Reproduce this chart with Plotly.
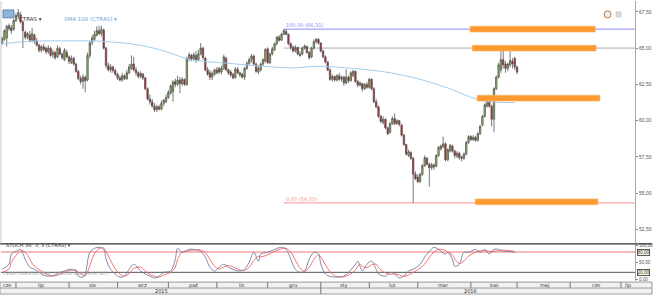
import pandas as pd
import plotly.graph_objects as go

ticker = "CTRAS"

# ---------------- data ----------------
trade_days = pd.bdate_range("2015-06-23", "2016-04-29")  # 224 sessions

opens = [
    65.34, 65.6, 65.7, 66.55, 66.4, 66.3,
    66.9, 67.2, 67.3, 66.8, 66.1, 65.75, 65.9, 65.55, 65.9, 65.5, 65.2, 64.85, 65.1, 65.0, 64.75, 65.0, 64.55, 64.7, 64.4, 64.95, 64.6, 64.2, 64.7,
    64.4, 64.0, 64.3, 63.9, 63.4, 62.9, 62.7, 63.0, 62.8, 64.5, 65.4, 65.6, 65.9, 66.2, 66.0, 66.25, 65.0, 63.8, 63.5, 63.7, 63.45,
    63.2, 62.95, 62.8, 63.1, 62.9, 63.3, 63.6, 63.9, 63.5, 63.3, 63.05, 63.2, 62.95, 62.2, 61.5, 61.3, 61.0, 60.75, 60.95, 60.8, 61.2, 61.3,
    61.6, 61.9, 62.0, 62.7, 62.5, 62.8, 62.55, 62.85, 62.5, 64.3, 64.5, 64.25, 64.5, 64.2, 64.6, 65.0, 64.3, 63.5, 63.3, 63.0, 63.2, 63.5,
    63.6, 63.35, 63.6, 64.3, 63.5, 63.35, 63.2, 62.95, 63.55, 63.3, 63.2, 63.0, 63.6, 63.95, 64.2, 64.45, 63.9, 63.35, 63.5, 63.9, 64.1,
    64.95, 64.0, 64.6, 64.9, 65.3, 65.75, 65.55, 65.95, 66.15, 65.95, 65.3, 65.05, 64.8, 65.05, 64.6, 64.6, 65.0, 65.1, 64.7, 64.4, 65.0, 65.45, 65.6,
    65.35, 64.8, 64.4, 64.05, 63.5, 62.85, 63.05, 62.8, 63.1, 62.85, 63.0, 62.6, 63.0, 62.75, 63.1, 63.4, 62.7, 62.45, 62.55, 62.2, 62.5,
    62.3, 62.85, 62.2, 61.3, 60.95, 60.3, 59.85, 60.1, 59.5, 59.2, 59.8, 60.15, 59.8, 60.0, 59.7, 59.0, 58.35, 57.6, 57.8, 57.4, 56.3,
    56.1, 55.8, 56.3, 56.9, 57.4, 57.0, 56.75, 56.95, 56.85, 57.6, 58.05, 58.2, 58.4, 57.3, 57.9, 58.25, 57.9, 57.55, 57.75, 57.5, 57.4, 57.7, 58.5,
    58.9, 58.7, 58.85, 58.65, 59.1, 59.7, 60.3, 61.0, 61.4, 61.0, 60.1, 62.2, 63.0, 63.5, 64.2, 63.9, 63.6, 63.85, 64.1, 64.3, 63.7,
]
highs = [
    65.8, 66.3, 66.6, 66.7, 66.6, 67.0,
    67.4, 67.7, 67.5, 66.9, 66.2, 66.1, 66.2, 66.4, 66.0, 65.7, 65.3, 65.2, 65.3, 65.1, 65.2, 65.1, 64.9, 64.8, 65.2, 65.1, 64.7, 65.0, 64.9,
    64.5, 64.5, 64.4, 64.0, 63.5, 63.1, 63.2, 63.1, 64.7, 65.5, 65.9, 66.2, 66.5, 66.55, 66.55, 66.35, 65.1, 64.0, 63.9, 63.8, 63.6,
    63.3, 63.1, 63.3, 63.2, 63.5, 63.9, 64.5, 64.4, 63.7, 63.4, 63.4, 63.3, 63.0, 62.3, 61.8, 61.5, 61.2, 61.1, 61.1, 61.4, 61.5, 61.8,
    62.1, 62.5, 62.8, 62.9, 63.1, 63.0, 63.0, 62.9, 64.4, 64.7, 64.6, 64.7, 64.8, 64.9, 65.35, 65.1, 64.4, 63.7, 63.5, 63.4, 63.6, 63.7,
    63.7, 63.8, 64.55, 64.4, 63.6, 63.5, 63.3, 63.7, 63.7, 63.4, 63.3, 63.7, 64.1, 64.35, 64.6, 64.55, 64.0, 63.8, 64.0, 64.3, 65.0,
    65.05, 64.7, 65.1, 65.4, 65.85, 65.9, 66.05, 66.31, 66.3, 66.0, 65.4, 65.2, 65.2, 65.1, 64.8, 65.1, 65.25, 65.2, 64.8, 65.1, 65.6, 65.7, 65.7,
    65.4, 64.9, 64.5, 64.1, 63.6, 63.2, 63.1, 63.2, 63.3, 63.1, 63.1, 63.55, 63.1, 63.4, 63.5, 63.45, 62.8, 62.7, 62.6, 62.6, 62.65,
    62.95, 62.9, 62.3, 61.5, 61.05, 60.4, 60.3, 60.15, 59.6, 59.9, 60.3, 60.5, 60.1, 60.05, 59.8, 59.1, 58.4, 58.0, 57.9, 57.5, 56.5,
    56.3, 56.4, 57.0, 57.6, 57.5, 57.1, 57.1, 57.05, 57.7, 58.25, 58.35, 58.9, 58.5, 58.1, 58.4, 58.35, 58.0, 57.9, 57.85, 57.6, 57.8, 58.6, 59.0,
    59.0, 59.0, 58.95, 59.2, 59.7, 60.4, 61.2, 61.65, 61.6, 61.1, 62.3, 63.1, 64.0, 65.05, 64.9, 64.1, 64.0, 65.0, 64.3, 64.4, 63.8,
]
lows = [
    65.2, 65.5, 65.1, 66.2, 66.0, 66.2,
    66.8, 67.0, 66.7, 65.0, 65.6, 65.6, 65.4, 65.4, 65.3, 65.1, 64.7, 64.7, 64.8, 64.6, 64.6, 64.4, 64.3, 64.2, 64.3, 64.5, 64.2, 64.1, 64.3,
    63.9, 63.9, 63.8, 63.3, 62.8, 62.5, 62.2, 61.95, 62.7, 64.3, 65.2, 65.5, 65.8, 65.9, 65.8, 64.9, 63.6, 63.4, 63.3, 63.3, 63.1,
    62.8, 62.7, 62.7, 62.8, 62.8, 63.2, 63.5, 63.4, 63.1, 62.9, 62.9, 62.8, 62.1, 61.4, 61.1, 60.9, 60.6, 60.6, 60.7, 60.7, 61.0, 61.2,
    61.5, 61.8, 61.3, 62.3, 62.4, 61.9, 62.4, 62.4, 62.4, 64.1, 64.1, 64.1, 64.0, 64.1, 64.5, 64.2, 63.4, 63.1, 62.8, 62.8, 63.1, 63.2,
    63.2, 63.2, 63.5, 63.4, 63.15, 63.0, 62.85, 62.9, 63.2, 63.0, 62.9, 62.8, 63.5, 63.8, 64.0, 63.8, 63.3, 63.2, 63.4, 63.8, 64.0,
    63.9, 63.9, 64.5, 64.8, 65.2, 65.45, 65.5, 65.9, 65.9, 65.2, 64.9, 64.7, 64.7, 64.5, 64.4, 64.5, 64.9, 64.6, 64.2, 64.3, 64.9, 65.3, 65.25,
    64.7, 64.3, 63.95, 63.4, 62.75, 62.7, 62.7, 62.7, 62.75, 62.7, 62.4, 62.5, 62.6, 62.7, 63.0, 62.6, 62.3, 62.35, 62.0, 62.1, 62.2,
    62.2, 62.1, 61.2, 60.85, 60.2, 59.85, 59.75, 59.4, 59.0, 59.1, 59.7, 59.7, 59.7, 59.6, 58.9, 58.25, 57.6, 57.5, 57.3, 54.33, 55.9,
    55.7, 55.7, 56.2, 56.8, 56.9, 55.45, 56.6, 56.6, 56.8, 57.5, 57.95, 58.1, 57.2, 57.2, 57.8, 57.8, 57.4, 57.4, 57.3, 57.2, 57.3, 57.6, 58.4,
    58.6, 58.6, 58.55, 58.55, 59.0, 59.6, 60.2, 60.9, 60.9, 59.6, 59.2, 62.1, 62.9, 63.3, 63.6, 63.3, 63.4, 63.7, 63.6, 63.5, 63.2,
]
closes = [
    65.68, 66.2, 66.5, 66.35, 66.2, 66.9,
    67.25, 67.45, 66.8, 66.2, 65.75, 66.0, 65.55, 66.0, 65.5, 65.2, 64.85, 65.1, 64.9, 64.75, 65.0, 64.5, 64.7, 64.35, 65.0, 64.6, 64.35, 64.85, 64.4,
    64.1, 64.3, 63.9, 63.4, 62.9, 62.7, 63.0, 62.75, 64.5, 65.35, 65.7, 65.95, 66.2, 66.0, 66.3, 65.0, 63.8, 63.5, 63.7, 63.45, 63.2,
    62.95, 62.8, 63.1, 62.9, 63.3, 63.7, 63.9, 63.5, 63.3, 63.05, 63.25, 62.95, 62.2, 61.5, 61.3, 61.0, 60.75, 60.95, 60.8, 61.2, 61.4, 61.6,
    61.95, 62.4, 62.65, 62.5, 62.8, 62.55, 62.85, 62.5, 64.3, 64.55, 64.25, 64.55, 64.2, 64.6, 65.0, 64.35, 63.5, 63.2, 63.0, 63.25, 63.5, 63.3,
    63.35, 63.6, 64.4, 63.5, 63.3, 63.15, 62.95, 63.55, 63.3, 63.15, 63.0, 63.6, 63.95, 64.2, 64.45, 63.9, 63.4, 63.6, 63.9, 64.2, 64.9,
    64.0, 64.6, 64.95, 65.3, 65.75, 65.55, 65.95, 66.2, 65.95, 65.3, 65.05, 64.8, 65.05, 64.6, 64.5, 65.0, 65.15, 64.7, 64.35, 65.0, 65.45, 65.6, 65.35,
    64.8, 64.4, 64.05, 63.5, 62.85, 63.05, 62.8, 63.1, 62.85, 63.0, 62.6, 63.0, 62.75, 63.3, 63.4, 62.7, 62.45, 62.6, 62.2, 62.5, 62.3,
    62.85, 62.2, 61.3, 60.95, 60.3, 59.95, 60.1, 59.5, 59.1, 59.8, 60.15, 59.8, 60.0, 59.75, 59.0, 58.35, 57.7, 57.85, 57.4, 56.3, 56.0,
    55.8, 56.3, 56.9, 57.45, 57.0, 56.75, 56.95, 56.8, 57.6, 58.15, 58.25, 58.4, 57.3, 58.0, 58.3, 57.9, 57.6, 57.75, 57.45, 57.4, 57.7, 58.5, 58.9,
    58.7, 58.85, 58.65, 59.1, 59.6, 60.3, 61.1, 61.5, 61.0, 60.1, 62.2, 63.0, 63.85, 64.2, 63.85, 63.6, 63.9, 64.15, 63.9, 63.7, 63.35,
]

# SMA 100 (read at selected sessions)
sma_day = [0, 13, 28, 42, 57, 68, 82, 97, 111, 126, 137, 152, 166, 176, 181, 195, 202, 210, 222]
sma_val = [65.3, 65.48, 65.5, 65.48, 65.27, 64.9, 64.2, 63.97, 63.77, 63.64, 63.75, 63.6, 63.35, 63.05, 62.85,
           62.14, 61.67, 61.33, 61.24]

# Stochastic %K / %D (read at selected sessions)
sto_day = [0, 3, 4, 6, 8, 10, 12, 14, 16, 19, 21, 23, 25, 27, 29, 32, 33, 35, 36, 38, 40, 42, 44, 45, 47, 49,
           51, 53, 55, 57, 60, 62, 64, 66, 68, 70, 73, 75, 76, 78, 81, 83, 86, 88, 90, 92, 94, 96, 98, 101, 103,
           105, 107, 109, 111, 112, 115, 118, 121, 123, 125, 127, 129, 131, 133, 135, 137, 138, 140, 142, 144,
           146, 148, 150, 153, 154, 155, 156, 158, 160, 162, 163, 166, 168, 170, 172, 174, 176, 178, 181, 183,
           185, 187, 189, 192, 193, 195, 196, 198, 200, 202, 205, 207, 209, 211, 213, 215, 217, 220, 222]
sto_k = [29, 44, 74, 82, 88, 59, 35, 29, 20, 9, 9, 12, 20, 24, 29, 24, 9, 6, 15, 79, 91, 94, 88, 59, 29, 15,
         6, 9, 29, 44, 24, 15, 9, 3, 9, 20, 24, 59, 91, 79, 88, 88, 82, 65, 35, 24, 35, 44, 35, 26, 24,
         29, 50, 79, 53, 74, 79, 88, 94, 88, 59, 29, 20, 24, 59, 79, 75, 45, 15, 8, 6,
         6, 9, 20, 44, 53, 38, 24, 44, 53, 29, 15, 9, 20, 15, 3, 9, 24, 29, 44, 65,
         82, 94, 88, 74, 79, 59, 38, 44, 79, 79, 88, 79, 88, 74, 88, 88, 82, 82, 79]
sto_d = [20, 30, 50, 70, 84, 80, 58, 38, 28, 16, 10, 10, 14, 20, 25, 27, 20, 12, 9, 40, 75, 90, 92, 82, 55, 30,
         15, 9, 16, 32, 35, 24, 14, 8, 6, 12, 20, 35, 58, 80, 84, 86, 86, 78, 58, 38, 30, 36, 40, 33, 27,
         26, 35, 55, 68, 66, 72, 82, 90, 91, 80, 56, 33, 23, 35, 58, 72, 66, 42, 22, 10,
         7, 7, 12, 26, 38, 44, 38, 34, 42, 44, 34, 18, 14, 16, 12, 8, 12, 20, 32, 45,
         64, 80, 88, 85, 80, 72, 60, 46, 54, 68, 80, 84, 84, 82, 82, 84, 86, 84, 82]

# Fibonacci retracement (from the December high to the February low)
fib_start_day = 122
fib_levels = [66.31, 65.00, 54.33]
fib_labels = ["100,00 (66,31)", "", "0,00 (54,33)"]
fib_colors = ["#8c8cff", "#d0d0d0", "#ff9090"]

# orange zones
zone_level = [66.31, 65.00, 61.55, 54.40]
zone_start = ["2016-03-31 16:00", "2016-04-01 14:00", "2016-04-05 17:00", "2016-04-04 22:00"]
zone_end = ["2016-06-15 21:00", "2016-06-16 05:00", "2016-06-17 21:00", "2016-06-17 00:00"]

months_pl = ["sty", "lut", "mar", "kwi", "maj", "cze", "lip", "sie", "wrz", "paź", "lis", "gru"]

X_START = "2015-06-22 12:30"
X_END = "2016-07-11 02:00"

# ---------------- figure ----------------
W, H = 653, 295


def px(x):
    return x / W


def py(y):
    return 1 - y / H


X_DOM = [px(1), px(636)]
BREAKS = [dict(bounds=["sat", "mon"])]
AXFONT = "Liberation Sans"

fig = go.Figure()

fig.add_trace(go.Candlestick(
    x=trade_days, open=opens, high=highs, low=lows, close=closes,
    increasing=dict(fillcolor="#86d04a", line=dict(color="#555555", width=0.8)),
    decreasing=dict(fillcolor="#e3101a", line=dict(color="#555555", width=0.8)),
    whiskerwidth=0, hoverinfo="skip", xaxis="x", yaxis="y",
))

fig.add_trace(go.Scatter(
    x=[trade_days[k] for k in sma_day], y=sma_val, mode="lines",
    line=dict(color="#a3cdec", width=1, shape="spline"), hoverinfo="skip",
    xaxis="x", yaxis="y",
))

sto_x = [trade_days[k] for k in sto_day]
fig.add_trace(go.Scatter(x=sto_x, y=sto_d, mode="lines",
                         line=dict(color="#ff6060", width=0.9, shape="spline"),
                         hoverinfo="skip", xaxis="x2", yaxis="y2"))
fig.add_trace(go.Scatter(x=sto_x, y=sto_k, mode="lines",
                         line=dict(color="#6f7fa3", width=0.9, shape="spline"),
                         hoverinfo="skip", xaxis="x2", yaxis="y2"))

# invisible anchor for the date strip axes
fig.add_trace(go.Scatter(x=[trade_days[0]], y=[0], mode="markers",
                         marker=dict(opacity=0), hoverinfo="skip",
                         xaxis="x3", yaxis="y3"))

axis_common = dict(range=[X_START, X_END], rangebreaks=BREAKS, showgrid=False,
                   zeroline=False, showticklabels=False, ticks="", domain=X_DOM)

fig.update_layout(
    width=W, height=H, margin=dict(l=0, r=0, t=0, b=0),
    paper_bgcolor="white", plot_bgcolor="white", showlegend=False,
    separators=", ", boxgap=0.15, hovermode=False,
    font=dict(family="DejaVu Sans", size=6, color="#444"),
    xaxis=dict(anchor="y", rangeslider=dict(visible=False), **axis_common),
    yaxis=dict(domain=[py(244), py(0)], anchor="x", side="right",
               range=[51.54, 68.25], tick0=0, dtick=2.5, tickformat=".2f",
               ticks="outside", ticklen=2, tickcolor="#888",
               tickfont=dict(size=5, color="#555", family=AXFONT),
               showgrid=False, zeroline=False, showline=True,
               linecolor="#aaaaaa", linewidth=1),
    xaxis2=dict(anchor="y2", **axis_common),
    yaxis2=dict(domain=[py(282), py(245)], anchor="x2", side="right",
                range=[-5.9, 102.9], tickvals=[0, 50, 100], tickformat=".2f",
                ticks="outside", ticklen=2, tickcolor="#888",
                tickfont=dict(size=4.5, color="#555", family=AXFONT),
                showgrid=False, zeroline=False, showline=True,
                linecolor="#aaaaaa", linewidth=1),
    xaxis3=dict(anchor="y3", **axis_common),
    yaxis3=dict(domain=[0, py(283)], anchor="x3", range=[0, 2], visible=False,
                fixedrange=True),
)

shapes = []
annotations = []

# fibonacci lines
for lvl, lab, col in zip(fib_levels, fib_labels, fib_colors):
    shapes.append(dict(type="line", xref="x", yref="y", x0=trade_days[fib_start_day], x1=X_END,
                       y0=lvl, y1=lvl, line=dict(color=col, width=1.6 if col == "#d0d0d0" else 1),
                       layer="below"))
    if lab:
        annotations.append(dict(xref="x", yref="y", x=trade_days[fib_start_day], y=lvl,
                                text=lab, showarrow=False, xanchor="left", yanchor="bottom",
                                yshift=-1, font=dict(size=5, color=col)))

# orange zones
for lvl, s, e in zip(zone_level, zone_start, zone_end):
    shapes.append(dict(type="rect", xref="x", yref="y", x0=s, x1=e, y0=lvl - 0.2, y1=lvl + 0.2,
                       fillcolor="#ff9a2e", line=dict(color="#f7b46a", width=0.6), layer="above"))

# stochastic reference lines
shapes.append(dict(type="line", xref="x2 domain", yref="y2", x0=0, x1=1, y0=80, y1=80,
                   line=dict(color="#f6a5a5", width=1.5), layer="below"))
shapes.append(dict(type="line", xref="x2 domain", yref="y2", x0=0, x1=1, y0=20, y1=20,
                   line=dict(color="#555555", width=1), layer="below"))

# panel separators / frame
shapes.append(dict(type="line", xref="paper", yref="paper", x0=0, x1=1, y0=py(244.5), y1=py(244.5),
                   line=dict(color="#333333", width=1.2)))
shapes.append(dict(type="line", xref="paper", yref="paper", x0=px(1), x1=px(1), y0=py(244), y1=1,
                   line=dict(color="#c8c8c8", width=1)))
shapes.append(dict(type="rect", xref="paper", yref="paper", x0=0, x1=1, y0=0, y1=py(283),
                   fillcolor="#f1f1f1", line=dict(color="#9a9a9a", width=1), layer="below"))
shapes.append(dict(type="line", xref="paper", yref="paper", x0=0, x1=1, y0=py(289), y1=py(289),
                   line=dict(color="#9a9a9a", width=1)))

# month separators and labels in the date strip
all_days = pd.bdate_range(X_START[:10], X_END[:10])
periods = all_days.to_period("M")
for per in periods.unique():
    days = all_days[periods == per]
    mid = days[len(days) // 2]
    annotations.append(dict(xref="x3", yref="y3", x=mid, y=1.5, text=months_pl[per.month - 1],
                            showarrow=False, font=dict(size=5, color="#333")))
    first = per.to_timestamp()
    if first >= pd.Timestamp(X_START):
        shapes.append(dict(type="line", xref="x3", yref="y3", x0=first, x1=first,
                           y0=0 if first.month == 1 else 1, y1=2,
                           line=dict(color="#777777", width=1)))

annotations.append(dict(xref="x3", yref="y3", x="2015-09-28", y=0.5, text="2015",
                        showarrow=False, font=dict(size=5, color="#333")))
annotations.append(dict(xref="x3", yref="y3", x="2016-04-01", y=0.5, text="2016",
                        showarrow=False, font=dict(size=5, color="#333")))

# header texts
shapes.append(dict(type="rect", xref="paper", yref="paper", x0=px(3), x1=px(14), y0=py(17), y1=py(9),
                   fillcolor="#8fb4d6", line=dict(color="#4f79a6", width=0.8)))
annotations.append(dict(xref="paper", yref="paper", x=px(17), y=py(13), text=ticker + " ▾",
                        showarrow=False, xanchor="left", font=dict(size=5.5, color="#333")))
annotations.append(dict(xref="paper", yref="paper", x=px(62), y=py(13),
                        text="SMA 100 (" + ticker + ") ▾", showarrow=False, xanchor="left",
                        font=dict(size=5.5, color="#6aa6d8")))
annotations.append(dict(xref="paper", yref="paper", x=px(4), y=py(251),
                        text="STOCH 36; 3; 3 (" + ticker + ") ▾", showarrow=False, xanchor="left",
                        font=dict(size=5, color="#333")))
annotations.append(dict(xref="paper", yref="paper", x=px(1), y=py(279),
                        text="CENA ORIENTACYJNA - Średnia opóźnienie (BT)", showarrow=False,
                        xanchor="left", font=dict(size=4.5, color="#aaaaaa")))

# top-right icons
shapes.append(dict(type="circle", xref="paper", yref="paper", x0=px(605), x1=px(612), y0=py(17), y1=py(10),
                   fillcolor="#e9eef5", line=dict(color="#c77a3a", width=1)))
shapes.append(dict(type="rect", xref="paper", yref="paper", x0=px(617), x1=px(622), y0=py(16), y1=py(11),
                   fillcolor="#dddddd", line=dict(color="#bbbbbb", width=0.6)))

# boxed stochastic levels
for lvl, txt in [(80, "80,00"), (20, "20,00")]:
    annotations.append(dict(xref="paper", yref="y2", x=px(638), y=lvl, text=txt, showarrow=False,
                            xanchor="left", bgcolor="#fffbe6", bordercolor="#333333", borderwidth=0.8,
                            borderpad=0, font=dict(size=4.5, color="#333", family=AXFONT)))

fig.update_layout(shapes=shapes, annotations=annotations)

fig.write_html("out.html", config={"displayModeBar": False, "staticPlot": True},
               post_script="document.body.style.margin='0px';document.body.style.padding='0px';")
